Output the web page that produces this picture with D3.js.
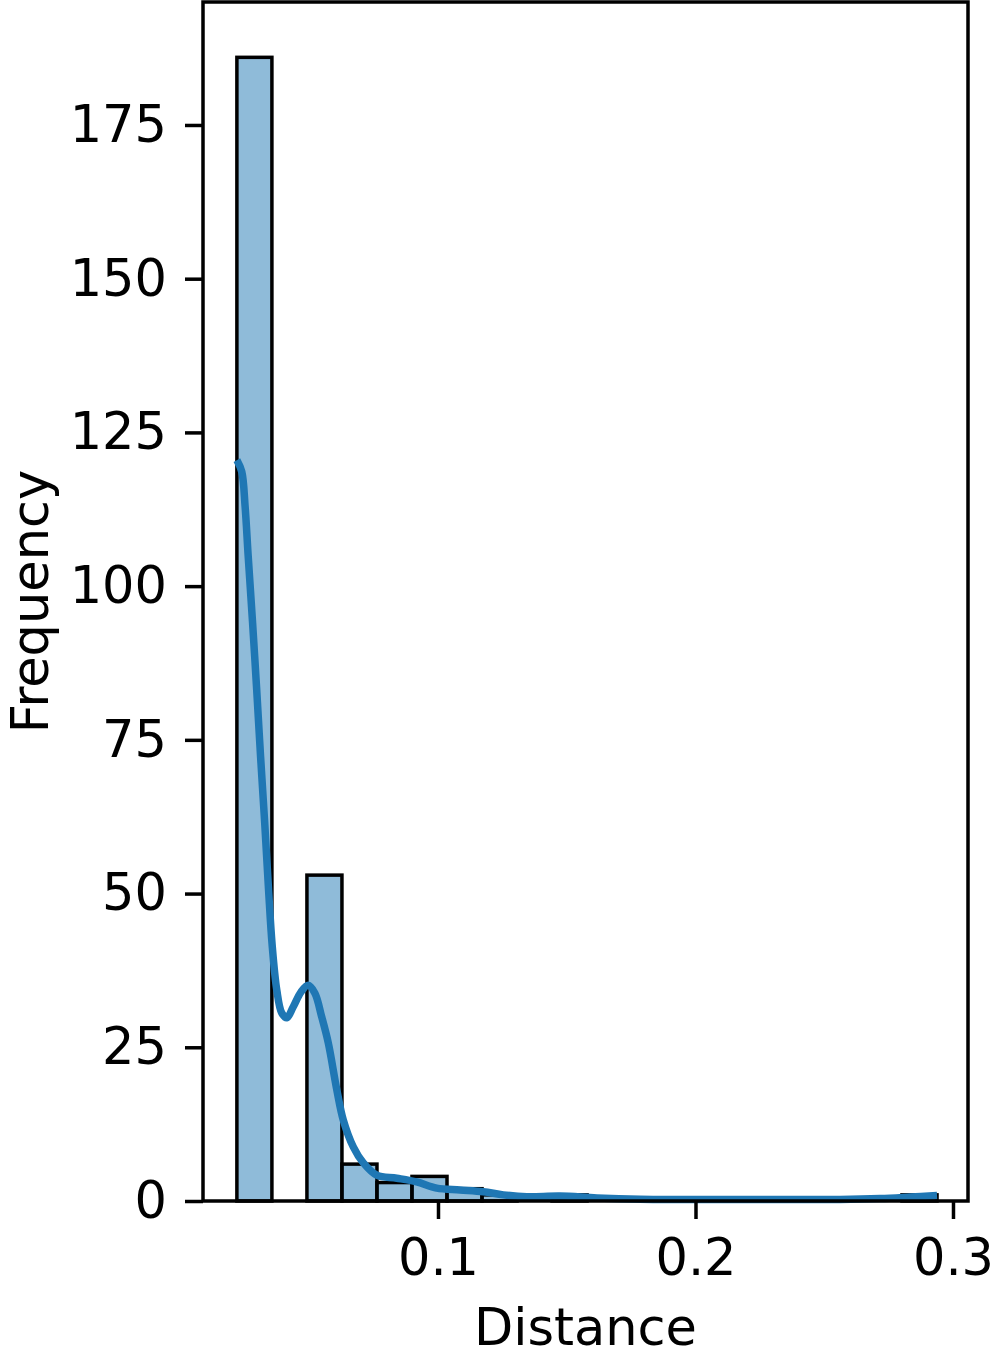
<!DOCTYPE html>
<html>
<head>
<meta charset="utf-8">
<script src="https://cdn.jsdelivr.net/npm/d3@7"></script>
<style>
    body { margin: 0; background: #ffffff; }
    svg { display: block; }
    text { font-family: 'DejaVu Sans', sans-serif; fill: #000000; }
</style>
</head>
<body>
<svg id="histSVG" width="994" height="1357"></svg>
<script>
// Histogram bins (edges) and counts
var binEdges = [0.0219, 0.0355, 0.0491, 0.0627, 0.0763, 0.0899, 0.1035, 0.1171, 0.1307, 0.1443,
    0.1579, 0.1715, 0.1851, 0.1987, 0.2123, 0.2259, 0.2394, 0.2530, 0.2666, 0.2802, 0.2938];
var binCounts = [186, 0, 53, 6, 3, 4, 2, 1, 0, 1, 0, 0, 0, 0, 0, 0, 0, 0, 0, 1];

// KDE curve
var kdeX = [0.0219, 0.0238, 0.0251, 0.0263, 0.0280, 0.0296, 0.0311, 0.0327, 0.0342, 0.0356,
    0.0374, 0.0393, 0.0413, 0.0438, 0.0468, 0.0496, 0.0522, 0.0548, 0.0574, 0.0607,
    0.0632, 0.0671, 0.0710, 0.0762, 0.0840, 0.0917, 0.0995, 0.1086, 0.1176, 0.1254,
    0.1345, 0.1474, 0.1617, 0.1785, 0.2018, 0.2328, 0.2561, 0.2717, 0.2834, 0.2938];
var kdeY = [120.5, 118.6, 112.9, 104.8, 94.0, 83.1, 72.3, 61.5, 50.6, 41.6,
    34.3, 30.6, 29.8, 31.6, 34.0, 35.1, 33.8, 30.0, 25.7, 18.1,
    13.2, 8.8, 6.2, 4.2, 3.7, 3.1, 2.1, 1.8, 1.5, 1.0,
    0.7, 0.8, 0.5, 0.3, 0.25, 0.25, 0.25, 0.4, 0.65, 0.9];

// Ticks
var xTicks = [0.1, 0.2, 0.3];
var xTickLabels = ['0.1', '0.2', '0.3'];
var yTicks = [0, 25, 50, 75, 100, 125, 150, 175];

var props = { left: 203, right: 968, top: 2, bottom: 1201 };
var svg = d3.select('#histSVG');

var x = d3.scaleLinear()
    .domain([0.00874, 0.30583])
    .range([props.left, props.right]);

var y = d3.scaleLinear()
    .domain([0, 195])
    .range([props.bottom, props.top]);

// Bars
var bins = binCounts.map(function(c, i) {
    return { x0: binEdges[i], x1: binEdges[i + 1], count: c };
});

svg.selectAll('.bar')
    .data(bins.filter(function(d) { return d.count > 0; }))
    .enter()
    .append('rect')
    .attr('class', 'bar')
    .attr('x', function(d) { return x(d.x0); })
    .attr('y', function(d) { return y(d.count); })
    .attr('width', function(d) { return x(d.x1) - x(d.x0); })
    .attr('height', function(d) { return y(0) - y(d.count); })
    .attr('fill', 'rgba(31,119,180,0.5)')
    .attr('stroke', '#000000')
    .attr('stroke-width', 3.5);

// KDE line
var kde = kdeX.map(function(v, i) { return [v, kdeY[i]]; });

var line = d3.line()
    .x(function(d) { return x(d[0]); })
    .y(function(d) { return y(d[1]); })
    .curve(d3.curveCatmullRom.alpha(0.5));

svg.append('path')
    .datum(kde)
    .attr('d', line)
    .attr('fill', 'none')
    .attr('stroke', '#1f77b4')
    .attr('stroke-width', 7.5);

// Axes
svg.append('g')
    .attr('class', 'x axis')
    .attr('transform', 'translate(0,' + props.bottom + ')')
    .call(
        d3.axisBottom(x)
            .tickValues(xTicks)
            .tickFormat(function(d, i) { return xTickLabels[i]; })
            .tickSize(18)
            .tickPadding(20)
    )
    .call(function(g) { g.select('.domain').remove(); });

svg.append('g')
    .attr('class', 'y axis')
    .attr('transform', 'translate(' + props.left + ',0)')
    .call(
        d3.axisLeft(y)
            .tickValues(yTicks)
            .tickSize(18)
            .tickPadding(18)
    )
    .call(function(g) { g.select('.domain').remove(); });

svg.selectAll('.axis text')
    .attr('font-size', '51px')
    .attr('font-family', 'DejaVu Sans')
    .attr('fill', '#000000');

svg.selectAll('.axis line')
    .attr('stroke', '#000000')
    .attr('stroke-width', 3.5);

// Spines
svg.append('rect')
    .attr('x', props.left)
    .attr('y', props.top)
    .attr('width', props.right - props.left)
    .attr('height', props.bottom - props.top)
    .attr('fill', 'none')
    .attr('stroke', '#000000')
    .attr('stroke-width', 3.5);

// Axis labels
svg.append('text')
    .attr('x', (props.left + props.right) / 2)
    .attr('y', 1345)
    .attr('text-anchor', 'middle')
    .attr('font-size', '51px')
    .text('Distance');

svg.append('text')
    .attr('transform', 'translate(48,' + (props.top + props.bottom) / 2 + ') rotate(-90)')
    .attr('text-anchor', 'middle')
    .attr('font-size', '51px')
    .text('Frequency');
</script>
</body>
</html>
